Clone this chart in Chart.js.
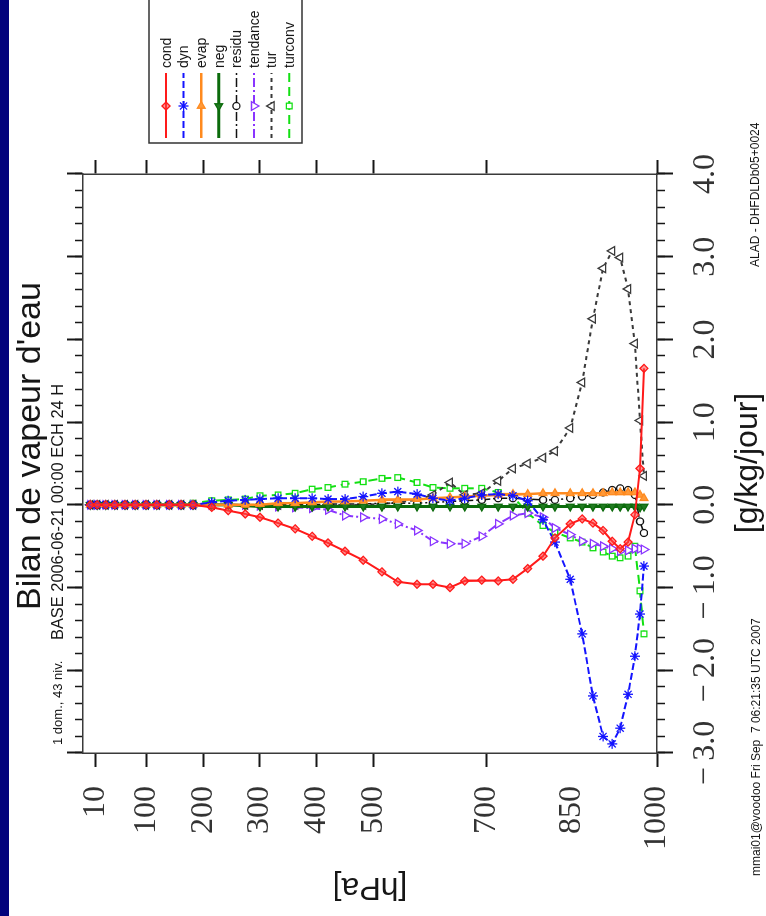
<!DOCTYPE html>
<html lang="fr">
<head>
<meta charset="utf-8">
<title>Bilan de vapeur d'eau</title>
<script src="https://cdn.jsdelivr.net/npm/chart.js@4.4.1/dist/chart.umd.min.js"></script>
<style>
  html, body { margin: 0; padding: 0; width: 766px; height: 916px; overflow: hidden; background: #fff; }
  #strip { position: absolute; left: 0; top: 0; width: 9px; height: 916px; background: #03037c; }
  /* the plot is drawn upright, then the whole sheet is turned a quarter left */
  #sheet {
    position: absolute; left: 0; top: 0; width: 916px; height: 754px;
    transform-origin: 0 0; transform: translate(12px, 916px) rotate(-90deg);
  }
</style>
</head>
<body>
<div id="strip"></div>
<div id="sheet"><canvas id="chart" width="916" height="754"></canvas></div>
<script>
"use strict";

// ── Data ─────────────────────────────────────────────────────────────────────
// model levels (hPa), top to bottom
const LEVELS = [1, 13, 28, 44, 62, 80, 99, 118, 140, 161,
  182, 215, 244, 274, 300, 332, 362, 392, 420, 450,
  482, 515, 543, 577, 605, 635, 661, 691, 720, 746,
  772, 799, 820, 847, 868, 887, 905, 921, 935, 949,
  961, 970, 977];

// tendencies in g/kg/jour, one value per level
const COND = [0, 0, 0, 0, 0, 0, 0, 0, 0, 0,
  0, -0.03, -0.07, -0.11, -0.15, -0.22, -0.29, -0.38, -0.46, -0.56,
  -0.67, -0.81, -0.93, -0.96, -0.96, -1.0, -0.92, -0.91, -0.92, -0.9,
  -0.77, -0.62, -0.4, -0.23, -0.17, -0.22, -0.31, -0.44, -0.53, -0.45,
  -0.12, 0.44, 1.65];
const DYN = [0, 0, 0, 0, 0, 0, 0, 0, 0, 0,
  0, 0.03, 0.05, 0.06, 0.07, 0.08, 0.08, 0.08, 0.07, 0.07,
  0.1, 0.14, 0.16, 0.13, 0.08, 0.05, 0.08, 0.12, 0.13, 0.11,
  0.05, -0.18, -0.45, -0.9, -1.56, -2.31, -2.8, -2.89, -2.7, -2.29,
  -1.83, -1.32, -0.74];
const EVAP = [0, 0, 0, 0, 0, 0, 0, 0, 0, 0,
  0, 0, 0, 0, 0.01, 0.02, 0.02, 0.03, 0.04, 0.04,
  0.05, 0.06, 0.06, 0.07, 0.08, 0.09, 0.1, 0.11, 0.12, 0.13,
  0.13, 0.14, 0.14, 0.14, 0.14, 0.14, 0.14, 0.15, 0.15, 0.15,
  0.15, 0.12, 0.08];
const NEG = [0, 0, 0, 0, 0, 0, 0, 0, 0, 0,
  0, 0, 0, -0.01, -0.02, -0.02, -0.02, -0.02, -0.02, -0.02,
  -0.02, -0.02, -0.02, -0.02, -0.02, -0.02, -0.02, -0.02, -0.02, -0.02,
  -0.02, -0.02, -0.02, -0.02, -0.02, -0.02, -0.02, -0.02, -0.02, -0.02,
  -0.02, -0.03, -0.02];
const RESIDU = [0, 0, 0, 0, 0, 0, 0, 0, 0, 0,
  0, 0, 0, 0, 0, 0, 0, 0, 0.01, 0.01,
  0.01, 0.02, 0.02, 0.02, 0.03, 0.04, 0.05, 0.06, 0.08, 0.08,
  0.07, 0.06, 0.06, 0.08, 0.1, 0.12, 0.15, 0.18, 0.2, 0.18,
  0.12, -0.2, -0.34];
const TENDANCE = [0, 0, 0, 0, 0, 0, 0, 0, 0, 0,
  0, 0, 0, 0, -0.01, -0.02, -0.03, -0.04, -0.06, -0.13,
  -0.15, -0.17, -0.23, -0.31, -0.44, -0.47, -0.47, -0.38, -0.23, -0.13,
  -0.1, -0.15, -0.28, -0.36, -0.44, -0.47, -0.5, -0.53, -0.56, -0.55,
  -0.53, -0.53, -0.54];
const TUR = [0, 0, 0, 0, 0, 0, 0, 0, 0, 0,
  0, 0, 0, 0, 0, 0, 0, 0, 0, 0,
  0, 0.01, 0.03, 0.06, 0.12, 0.27, 0.12, 0.14, 0.29, 0.44,
  0.5, 0.57, 0.65, 0.93, 1.48, 2.25, 2.86, 3.07, 2.99, 2.61,
  1.95, 1.02, 0.35];
const TURCONV = [0, 0, 0, 0, 0, 0, 0, 0, 0, 0,
  0.02, 0.05, 0.06, 0.07, 0.11, 0.12, 0.14, 0.19, 0.21, 0.25,
  0.28, 0.32, 0.33, 0.27, 0.21, 0.2, 0.2, 0.2, 0.15, 0.1,
  -0.1, -0.25, -0.33, -0.4, -0.45, -0.52, -0.57, -0.62, -0.64, -0.62,
  -0.5, -1.04, -1.56];

// axis ticks
const PRESSURE_TICKS = [10, 100, 200, 300, 400, 500, 700, 850, 1000];
const VALUE_TICKS = [-3, -2, -1, 0, 1, 2, 3, 4];
const VALUE_MINOR = [-3, -2.8, -2.6, -2.4, -2.2, -2, -1.8, -1.6, -1.4, -1.2,
  -1, -0.8, -0.6, -0.4, -0.2, 0, 0.2, 0.4, 0.6, 0.8,
  1, 1.2, 1.4, 1.6, 1.8, 2, 2.2, 2.4, 2.6, 2.8,
  3, 3.2, 3.4, 3.6, 3.8, 4];

// ── Series styles ────────────────────────────────────────────────────────────
// marker rotations are for the upright sheet (it is turned -90° on the page)
const SERIES = [
  { label: "cond",     values: COND,     color: "#ff1a1a", fill: "rgba(255,70,70,0.55)", dash: [],            width: 2,   style: "rectRot",  rot: 0,   r: 4 },
  { label: "dyn",      values: DYN,      color: "#1414ff", fill: "#1414ff",              dash: [7, 3],        width: 2,   style: "star",     rot: 0,   r: 5 },
  { label: "evap",     values: EVAP,     color: "#ff8a1e", fill: "#ff9a3a",              dash: [],            width: 2.5, style: "triangle", rot: 90,  r: 4.5 },
  { label: "neg",      values: NEG,      color: "#0b6b0b", fill: "#207a20",              dash: [],            width: 3,   style: "triangle", rot: 270, r: 4.5 },
  { label: "residu",   values: RESIDU,   color: "#111111", fill: "#ffffff",              dash: [9, 3, 2, 3],  width: 1.5, style: "circle",   rot: 0,   r: 3.5 },
  { label: "tendance", values: TENDANCE, color: "#8a35ff", fill: "#ffffff",              dash: [9, 3, 2, 3],  width: 2,   style: "triangle", rot: 180, r: 5 },
  { label: "tur",      values: TUR,      color: "#3a3a3a", fill: "#ffffff",              dash: [4, 4],        width: 2,   style: "triangle", rot: 0,   r: 5 },
  { label: "turconv",  values: TURCONV,  color: "#12e012", fill: "#ffffff",              dash: [9, 5],        width: 2,   style: "rect",     rot: 0,   r: 4 },
];

// ── Helpers ──────────────────────────────────────────────────────────────────
const SANS  = "'Liberation Sans', Arial, sans-serif";
const SERIF = "'Liberation Serif', 'Times New Roman', serif";

function fmtValue(v) {
  return (v < 0 ? "\u2212\u2009" : "") + Math.abs(v).toFixed(1);
}

function setTicks(list) {
  return (scale) => { scale.ticks = list.map(v => ({ value: v })); };
}

// each axis box gets a fixed depth, so the plot frame lands where it should
function depth(px) {
  return (scale) => {
    if (scale.isHorizontal()) scale.height = px; else scale.width = px;
  };
}

function tickGrid(len, w, hide) {
  return {
    drawOnChartArea: false,
    drawTicks: true,
    tickLength: len,
    tickWidth: w,
    tickColor: (ctx) => (hide && ctx.tick && ctx.tick.value === hide ? "rgba(0,0,0,0)" : "#161616"),
  };
}

const FRAME = { display: true, color: "#3a3a3a", width: 1.5 };
const NO_FRAME = { display: false };

// ── Annotations + legend box ────────────────────────────────────────────────
const annotations = {
  id: "annotations",
  afterDraw(chart) {
    const ctx = chart.ctx;
    ctx.save();
    ctx.fillStyle = "#161616";
    ctx.textBaseline = "alphabetic";

    ctx.textAlign = "center";
    ctx.font = `34px ${SANS}`;
    ctx.fillText("Bilan de vapeur d'eau", 470, 28);

    ctx.textAlign = "left";
    ctx.font = `13px ${SANS}`;
    ctx.fillText("1 dom., 43 niv.", 171, 50, 90);
    ctx.font = `17px ${SANS}`;
    ctx.fillText("BASE 2006-06-21 00:00 ECH 24 H", 276, 51, 256);

    ctx.font = `12px ${SANS}`;
    ctx.fillText("mmai01@voodoo Fri Sep  7 06:21:35 UTC 2007", 40, 748, 286);
    ctx.fillText("ALAD - DHFDLDb05+0024", 649, 747);

    ctx.textAlign = "center";
    ctx.textBaseline = "middle";
    ctx.font = `32px ${SANS}`;
    ctx.fillText("[g/kg/jour]", 453, 736);
    ctx.save();
    ctx.translate(29, 358);
    ctx.rotate(-Math.PI / 2);
    ctx.fillText("[hPa]", 0, 0);
    ctx.restore();

    // legend
    ctx.strokeStyle = "#333";
    ctx.lineWidth = 1.5;
    ctx.strokeRect(773, 137, 220, 153);
    ctx.font = `14px ${SANS}`;
    ctx.textAlign = "left";
    chart.data.datasets.forEach((ds, i) => {
      const v = 154 + i * 17.6;
      ctx.strokeStyle = ds.borderColor;
      ctx.lineWidth = ds.borderWidth;
      ctx.setLineDash(ds.borderDash);
      ctx.beginPath();
      ctx.moveTo(778, v);
      ctx.lineTo(843, v);
      ctx.stroke();
      ctx.setLineDash([]);
      ctx.lineWidth = 1.3;
      ctx.fillStyle = ds.pointBackgroundColor;
      Chart.helpers.drawPoint(ctx, {
        pointStyle: ds.pointStyle, rotation: ds.pointRotation,
        radius: ds.pointRadius, borderWidth: 1.3,
      }, 810, v);
      ctx.fillStyle = "#161616";
      ctx.fillText(ds.label, 848, v + 1);
    });
    ctx.restore();
  },
};

// ── Chart ────────────────────────────────────────────────────────────────────
// minor-tick axes sit next to the frame with no depth (weight 0),
// labelled axes sit outside them (weight 1) and fill the margin
const valueAxis = (pos, list, len, w, opts) => ({
  type: "linear",
  position: pos,
  weight: opts.weight,
  min: -3,
  max: 4,
  afterBuildTicks: setTicks(list),
  afterFit: depth(opts.depth),
  ticks: {
    display: opts.labels,
    autoSkip: false,
    maxRotation: 0,
    padding: 13,
    color: "#333",
    font: { family: SERIF, size: 32 },
    callback: fmtValue,
  },
  grid: tickGrid(len, w),
  border: opts.frame ? FRAME : NO_FRAME,
});

const pressureAxis = (pos, labels, px) => ({
  type: "linear",
  position: pos,
  reverse: true,
  min: -12,
  max: 1000,
  afterBuildTicks: setTicks(PRESSURE_TICKS),
  afterFit: depth(px),
  ticks: {
    display: labels,
    autoSkip: false,
    padding: 19,
    color: "#333",
    font: { family: SERIF, size: 32 },
    callback: (v) => String(v),
  },
  grid: tickGrid(14, 2, 850),
  border: FRAME,
});

new Chart(document.getElementById("chart"), {
  type: "line",
  data: {
    datasets: SERIES.map(s => ({
      label: s.label,
      data: LEVELS.map((p, i) => ({ x: s.values[i], y: p })),
      borderColor: s.color,
      backgroundColor: s.fill,
      borderWidth: s.width,
      borderDash: s.dash,
      pointStyle: s.style,
      pointRotation: s.rot,
      pointRadius: s.r,
      pointBorderWidth: 1.3,
      pointBackgroundColor: s.fill,
      pointBorderColor: s.color,
      tension: 0,
      fill: false,
      clip: false,
      xAxisID: "x",
      yAxisID: "y",
    })),
  },
  options: {
    responsive: false,
    animation: false,
    layout: { padding: 0 },
    plugins: { legend: { display: false }, tooltip: { enabled: false } },
    scales: {
      xMinor:    valueAxis("bottom", VALUE_MINOR, 8, 1.5, { weight: 0, depth: 0, labels: false, frame: false }),
      xTopMinor: valueAxis("top", VALUE_MINOR, 8, 1.5, { weight: 0, depth: 0, labels: false, frame: false }),
      x:         valueAxis("bottom", VALUE_TICKS, 16, 2, { weight: 1, depth: 109, labels: true, frame: true }),
      xTop:      valueAxis("top", VALUE_TICKS, 16, 2, { weight: 1, depth: 71, labels: false, frame: true }),
      y:         pressureAxis("left", true, 163),
      yRight:    pressureAxis("right", false, 174),
    },
  },
  plugins: [annotations],
});
</script>
</body>
</html>
